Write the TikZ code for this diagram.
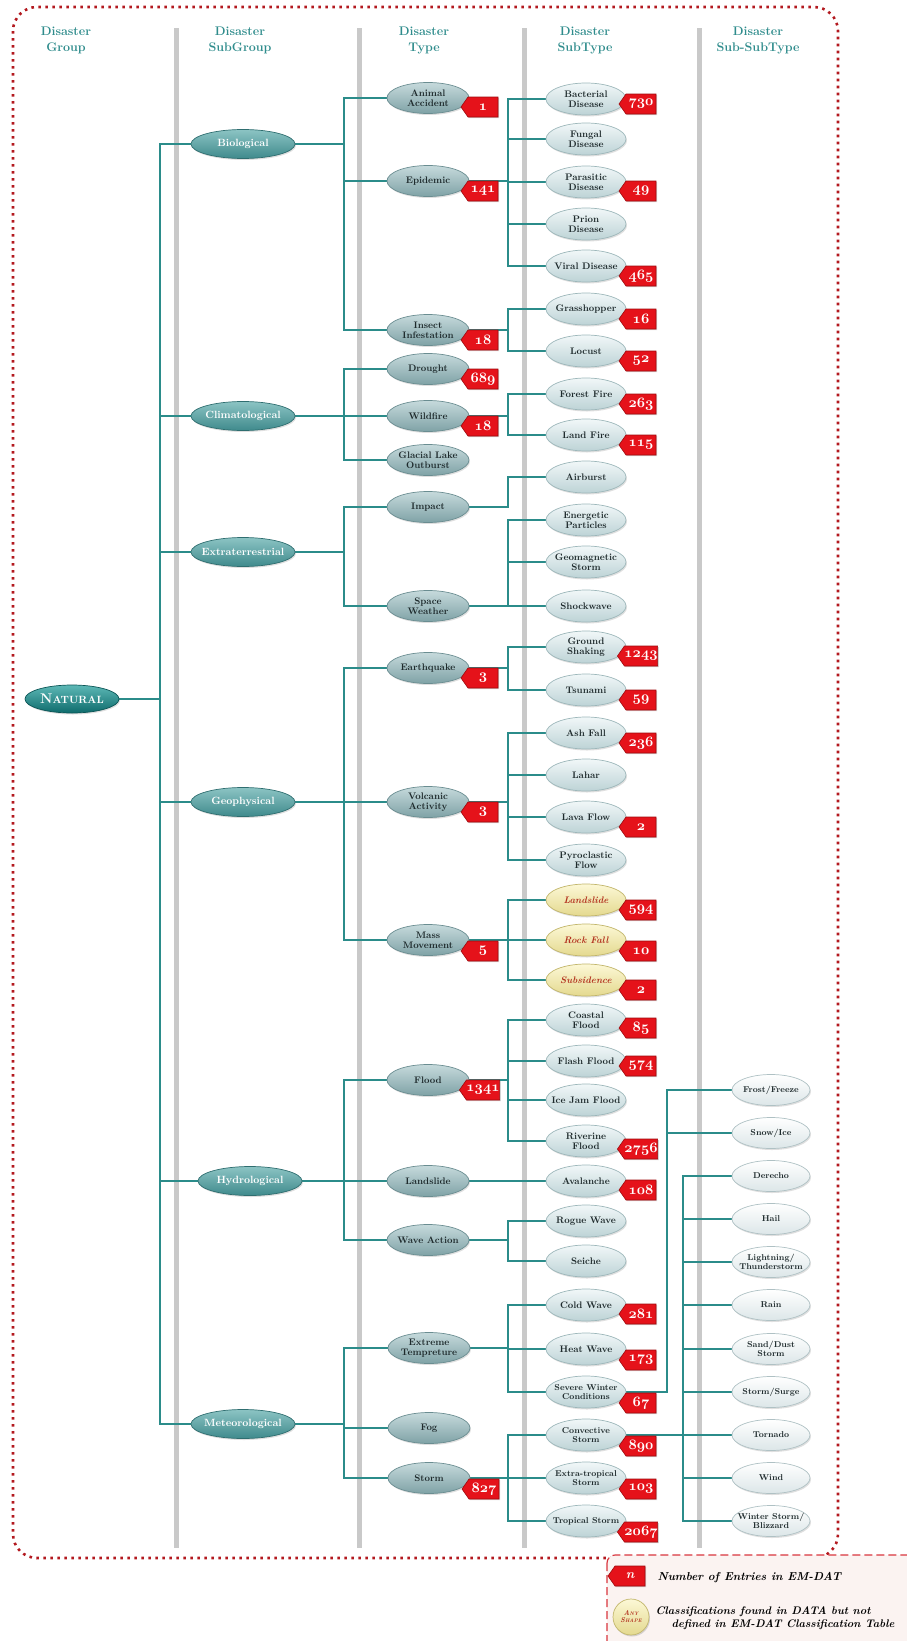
\documentclass[tikz,border=0pt]{standalone}
\usetikzlibrary{shapes.geometric,shapes.symbols,shadows,backgrounds}

\definecolor{linkC}{HTML}{2B8C8A}
\definecolor{headC}{HTML}{2F8C8C}
\definecolor{barC}{HTML}{C9C9C9}
\definecolor{natT}{HTML}{5DB8B6}
\definecolor{natB}{HTML}{0E6B6C}
\definecolor{natD}{HTML}{0B5556}
\definecolor{sgT}{HTML}{8CC4C4}
\definecolor{sgB}{HTML}{3F8A8C}
\definecolor{sgD}{HTML}{2F6E70}
\definecolor{tyT}{HTML}{C6DADC}
\definecolor{tyB}{HTML}{7FA2A6}
\definecolor{tyD}{HTML}{6A8D91}
\definecolor{stT}{HTML}{F1F7F8}
\definecolor{stB}{HTML}{BDD3D6}
\definecolor{stD}{HTML}{9DB7BA}
\definecolor{ssT}{HTML}{FFFFFF}
\definecolor{ssB}{HTML}{DCE6E8}
\definecolor{ssD}{HTML}{AFC1C4}
\definecolor{ylT}{HTML}{FCF8D6}
\definecolor{ylB}{HTML}{E4D98F}
\definecolor{ylD}{HTML}{C2B66C}
\definecolor{ylText}{HTML}{B3321F}
\definecolor{inkC}{HTML}{1E2A2C}
\definecolor{tagC}{HTML}{E5121A}
\definecolor{tagD}{HTML}{9E0A0E}
\definecolor{frameC}{HTML}{B3191F}
\definecolor{keyC}{HTML}{D9363E}
\definecolor{keyF}{HTML}{FBF3F1}

\newcommand\osn[1]{{\usefont{OML}{cmm}{b}{it}#1}}

\begin{document}
\begin{tikzpicture}[
  x=1pt, y=-1pt,
  every node/.style={align=center},
  oval/.style={ellipse, inner xsep=-8pt, inner ysep=0pt, line width=0.7pt,
               drop shadow={opacity=0.25, shadow xshift=1pt, shadow yshift=-1.5pt}},
  group/.style={oval, top color=natT, bottom color=natB, draw=natD, text=white,
                minimum width=94, minimum height=28},
  subgroup/.style={oval, top color=sgT, bottom color=sgB, draw=sgD, text=white,
                   minimum width=104, minimum height=29, font=\fontsize{10.5}{11}\selectfont\bfseries},
  dtype/.style={oval, top color=tyT, bottom color=tyB, draw=tyD, text=inkC,
                minimum width=82, minimum height=31, font=\fontsize{9.5}{10}\selectfont\bfseries},
  subtype/.style={oval, top color=stT, bottom color=stB, draw=stD, text=inkC,
                  minimum width=80, minimum height=32, font=\fontsize{9.5}{10}\selectfont\bfseries},
  extra/.style={oval, top color=ylT, bottom color=ylB, draw=ylD, text=ylText,
                minimum width=80, minimum height=32, font=\fontsize{9.5}{10}\selectfont\bfseries\itshape},
  subsub/.style={oval, top color=ssT, bottom color=ssB, draw=ssD, text=inkC,
                 minimum width=78, minimum height=31, font=\fontsize{8.5}{9.5}\selectfont\bfseries},
  tag/.style={signal, signal to=west, signal pointer angle=110, fill=tagC, draw=tagD,
              line width=0.6pt, text=white, minimum width=37, minimum height=20, inner xsep=0pt, inner ysep=1pt,
              font=\fontsize{13.5}{13.5}\selectfont\bfseries,
              drop shadow={opacity=0.35, shadow xshift=1.2pt, shadow yshift=-1.2pt}},
  head/.style={text=headC, font=\fontsize{12.5}{16}\selectfont\bfseries},
  link/.style={draw=linkC, line width=1.5pt},
  bar/.style={draw=barC, line width=5pt},
  keytext/.style={anchor=west, align=left, text=black, font=\fontsize{11.5}{13}\selectfont\bfseries\itshape}
]
\useasboundingbox (0,0) rectangle (907,1641);

% column headers
\node[head] (hgroup) at (66,40) {Disaster\\Group};
\node[head] (hsubgroup) at (240,40) {Disaster\\SubGroup};
\node[head] (htype) at (424,40) {Disaster\\Type};
\node[head] (hsubtype) at (585,40) {Disaster\\SubType};
\node[head] (hsubsub) at (758,40) {Disaster\\Sub-SubType};

% trunk positions
\coordinate (k0) at (160,0);
\coordinate (k1) at (344,0);
\coordinate (k2) at (508,0);
\coordinate (k3) at (667,0);
\coordinate (k4) at (683,0);

% group and subgroups
\node[group] (nat) at (72,699) {{\fontsize{14}{14}\selectfont\bfseries N}{\fontsize{10.5}{10.5}\selectfont\bfseries ATURAL}};
\node[subgroup] (bio) at (243,144) {Biological};
\node[subgroup] (clim) at (243,416) {Climatological};
\node[subgroup] (xterr) at (243,552) {Extraterrestrial};
\node[subgroup] (geo) at (243,802) {Geophysical};
\node[subgroup] (hydro) at (250,1181) {Hydrological};
\node[subgroup] (meteo) at (243,1424) {Meteorological};

% types
\node[dtype] (anim) at (428,98) {Animal\\Accident};
\node[dtype] (epid) at (428,181) {Epidemic};
\node[dtype] (insect) at (428,330) {Insect\\Infestation};
\node[dtype] (drought) at (428,369) {Drought};
\node[dtype] (wildfire) at (428,416) {Wildfire};
\node[dtype] (glacial) at (428,460) {Glacial Lake\\Outburst};
\node[dtype] (impact) at (428,507) {Impact};
\node[dtype] (spacew) at (428,606) {Space\\Weather};
\node[dtype] (quake) at (428,668) {Earthquake};
\node[dtype] (volc) at (428,802) {Volcanic\\Activity};
\node[dtype] (mass) at (428,940) {Mass\\Movement};
\node[dtype] (flood) at (428,1080) {Flood};
\node[dtype] (slideT) at (428,1181) {Landslide};
\node[dtype] (wave) at (428,1240) {Wave Action};
\node[dtype] (extreme) at (429,1348) {Extreme\\Tempreture};
\node[dtype] (fog) at (429,1428) {Fog};
\node[dtype] (storm) at (429,1478) {Storm};

% subtypes
\node[subtype] (bact) at (586,99) {Bacterial\\Disease};
\node[subtype] (fung) at (586,139) {Fungal\\Disease};
\node[subtype] (paras) at (586,182) {Parasitic\\Disease};
\node[subtype] (prion) at (586,224) {Prion\\Disease};
\node[subtype] (viral) at (586,266) {Viral Disease};
\node[subtype] (grass) at (586,309) {Grasshopper};
\node[subtype] (locust) at (586,351) {Locust};
\node[subtype] (forest) at (586,394) {Forest Fire};
\node[subtype] (landf) at (586,435) {Land Fire};
\node[subtype] (airb) at (586,477) {Airburst};
\node[subtype] (energ) at (586,520) {Energetic\\Particles};
\node[subtype] (geomag) at (586,562) {Geomagnetic\\Storm};
\node[subtype] (shock) at (586,606) {Shockwave};
\node[subtype] (ground) at (586,647) {Ground\\Shaking};
\node[subtype] (tsun) at (586,690) {Tsunami};
\node[subtype] (ash) at (586,733) {Ash Fall};
\node[subtype] (lahar) at (586,775) {Lahar};
\node[subtype] (lava) at (586,817) {Lava Flow};
\node[subtype] (pyro) at (586,860) {Pyroclastic\\Flow};
\node[extra] (slide) at (586,900) {Landslide};
\node[extra] (rock) at (586,940) {Rock Fall};
\node[extra] (subs) at (586,980) {Subsidence};
\node[subtype] (coast) at (586,1020) {Coastal\\Flood};
\node[subtype] (flash) at (586,1061) {Flash Flood};
\node[subtype] (icejam) at (586,1100) {Ice Jam Flood};
\node[subtype] (river) at (586,1141) {Riverine\\Flood};
\node[subtype] (aval) at (586,1181) {Avalanche};
\node[subtype] (rogue) at (586,1221) {Rogue Wave};
\node[subtype] (seiche) at (586,1261) {Seiche};
\node[subtype] (cold) at (586,1305) {Cold Wave};
\node[subtype] (heat) at (586,1349) {Heat Wave};
\node[subtype, font=\fontsize{8.5}{9.5}\selectfont\bfseries] (severe) at (586,1392) {Severe Winter\\Conditions};
\node[subtype, font=\fontsize{8.5}{9.5}\selectfont\bfseries] (conv) at (586,1435) {Convective\\Storm};
\node[subtype, font=\fontsize{8.5}{9.5}\selectfont\bfseries] (extrat) at (586,1478) {Extra-tropical\\Storm};
\node[subtype, font=\fontsize{8.5}{9.5}\selectfont\bfseries] (trop) at (586,1521) {Tropical Storm};

% sub-subtypes
\node[subsub] (frost) at (771,1090) {Frost/Freeze};
\node[subsub] (snow) at (771,1133) {Snow/Ice};
\node[subsub] (derecho) at (771,1176) {Derecho};
\node[subsub] (hail) at (771,1219) {Hail};
\node[subsub] (light) at (771,1262) {Lightning/\\Thunderstorm};
\node[subsub] (rain) at (771,1305) {Rain};
\node[subsub] (sand) at (771,1349) {Sand/Dust\\Storm};
\node[subsub] (surge) at (771,1392) {Storm/Surge};
\node[subsub] (tornado) at (771,1435) {Tornado};
\node[subsub] (wind) at (771,1478) {Wind};
\node[subsub] (winter) at (771,1521) {Winter Storm/\\Blizzard};

% entry counts
\node[tag] (t-anim) at (483,107) {\osn{1}};
\node[tag] (t-epid) at (483,191) {\osn{141}};
\node[tag] (t-insect) at (483,340) {\osn{18}};
\node[tag] (t-drought) at (483,379) {\osn{689}};
\node[tag] (t-wildfire) at (483,426) {\osn{18}};
\node[tag] (t-quake) at (483,678) {\osn{3}};
\node[tag] (t-volc) at (483,812) {\osn{3}};
\node[tag] (t-mass) at (483,951) {\osn{5}};
\node[tag] (t-flood) at (483,1090) {\osn{1341}};
\node[tag] (t-storm) at (484,1489) {\osn{827}};
\node[tag] (t-bact) at (641,104) {\osn{730}};
\node[tag] (t-paras) at (641,191) {\osn{49}};
\node[tag] (t-viral) at (641,276) {\osn{465}};
\node[tag] (t-grass) at (641,319) {\osn{16}};
\node[tag] (t-locust) at (641,361) {\osn{52}};
\node[tag] (t-forest) at (641,404) {\osn{263}};
\node[tag] (t-landf) at (641,445) {\osn{115}};
\node[tag] (t-ground) at (641,656) {\osn{1243}};
\node[tag] (t-tsun) at (641,700) {\osn{59}};
\node[tag] (t-ash) at (641,743) {\osn{236}};
\node[tag] (t-lava) at (641,827) {\osn{2}};
\node[tag] (t-slide) at (641,910) {\osn{594}};
\node[tag] (t-rock) at (641,951) {\osn{10}};
\node[tag] (t-subs) at (641,990) {\osn{2}};
\node[tag] (t-coast) at (641,1028) {\osn{85}};
\node[tag] (t-flash) at (641,1066) {\osn{574}};
\node[tag] (t-river) at (641,1149) {\osn{2756}};
\node[tag] (t-aval) at (641,1190) {\osn{108}};
\node[tag] (t-cold) at (641,1314) {\osn{281}};
\node[tag] (t-heat) at (641,1360) {\osn{173}};
\node[tag] (t-severe) at (641,1403) {\osn{67}};
\node[tag] (t-conv) at (641,1446) {\osn{890}};
\node[tag] (t-extrat) at (641,1489) {\osn{103}};
\node[tag] (t-trop) at (641,1532) {\osn{2067}};

\begin{scope}[on background layer]
  % frame and column bars
  \draw[frameC, line width=2.6pt, dash pattern=on 2.6pt off 4.4pt, rounded corners=24]
    (13,7) rectangle (838,1558);
  \draw[bar] (176,28) -- (176,1548);
  \draw[bar] (359,28) -- (359,1548);
  \draw[bar] (524,28) -- (524,1548);
  \draw[bar] (699,28) -- (699,1548);

  % group to subgroups
  \draw[link] (nat.east) -- (nat.east -| k0) |- (bio.west);
  \draw[link] (nat.east) -- (nat.east -| k0) |- (clim.west);
  \draw[link] (nat.east) -- (nat.east -| k0) |- (xterr.west);
  \draw[link] (nat.east) -- (nat.east -| k0) |- (geo.west);
  \draw[link] (nat.east) -- (nat.east -| k0) |- (hydro.west);
  \draw[link] (nat.east) -- (nat.east -| k0) |- (meteo.west);

  % subgroups to types
  \draw[link] (bio.east) -- (bio.east -| k1) |- (anim.west);
  \draw[link] (bio.east) -- (bio.east -| k1) |- (epid.west);
  \draw[link] (bio.east) -- (bio.east -| k1) |- (insect.west);
  \draw[link] (clim.east) -- (clim.east -| k1) |- (drought.west);
  \draw[link] (clim.east) -- (clim.east -| k1) |- (wildfire.west);
  \draw[link] (clim.east) -- (clim.east -| k1) |- (glacial.west);
  \draw[link] (xterr.east) -- (xterr.east -| k1) |- (impact.west);
  \draw[link] (xterr.east) -- (xterr.east -| k1) |- (spacew.west);
  \draw[link] (geo.east) -- (geo.east -| k1) |- (quake.west);
  \draw[link] (geo.east) -- (geo.east -| k1) |- (volc.west);
  \draw[link] (geo.east) -- (geo.east -| k1) |- (mass.west);
  \draw[link] (hydro.east) -- (hydro.east -| k1) |- (flood.west);
  \draw[link] (hydro.east) -- (hydro.east -| k1) |- (slideT.west);
  \draw[link] (hydro.east) -- (hydro.east -| k1) |- (wave.west);
  \draw[link] (meteo.east) -- (meteo.east -| k1) |- (extreme.west);
  \draw[link] (meteo.east) -- (meteo.east -| k1) |- (fog.west);
  \draw[link] (meteo.east) -- (meteo.east -| k1) |- (storm.west);

  % types to subtypes
  \draw[link] (epid.east) -- (epid.east -| k2) |- (bact.west);
  \draw[link] (epid.east) -- (epid.east -| k2) |- (fung.west);
  \draw[link] (epid.east) -- (epid.east -| k2) |- (paras.west);
  \draw[link] (epid.east) -- (epid.east -| k2) |- (prion.west);
  \draw[link] (epid.east) -- (epid.east -| k2) |- (viral.west);
  \draw[link] (insect.east) -- (insect.east -| k2) |- (grass.west);
  \draw[link] (insect.east) -- (insect.east -| k2) |- (locust.west);
  \draw[link] (wildfire.east) -- (wildfire.east -| k2) |- (forest.west);
  \draw[link] (wildfire.east) -- (wildfire.east -| k2) |- (landf.west);
  \draw[link] (impact.east) -- (impact.east -| k2) |- (airb.west);
  \draw[link] (spacew.east) -- (spacew.east -| k2) |- (energ.west);
  \draw[link] (spacew.east) -- (spacew.east -| k2) |- (geomag.west);
  \draw[link] (spacew.east) -- (spacew.east -| k2) |- (shock.west);
  \draw[link] (quake.east) -- (quake.east -| k2) |- (ground.west);
  \draw[link] (quake.east) -- (quake.east -| k2) |- (tsun.west);
  \draw[link] (volc.east) -- (volc.east -| k2) |- (ash.west);
  \draw[link] (volc.east) -- (volc.east -| k2) |- (lahar.west);
  \draw[link] (volc.east) -- (volc.east -| k2) |- (lava.west);
  \draw[link] (volc.east) -- (volc.east -| k2) |- (pyro.west);
  \draw[link] (mass.east) -- (mass.east -| k2) |- (slide.west);
  \draw[link] (mass.east) -- (mass.east -| k2) |- (rock.west);
  \draw[link] (mass.east) -- (mass.east -| k2) |- (subs.west);
  \draw[link] (flood.east) -- (flood.east -| k2) |- (coast.west);
  \draw[link] (flood.east) -- (flood.east -| k2) |- (flash.west);
  \draw[link] (flood.east) -- (flood.east -| k2) |- (icejam.west);
  \draw[link] (flood.east) -- (flood.east -| k2) |- (river.west);
  \draw[link] (slideT.east) -- (aval.west);
  \draw[link] (wave.east) -- (wave.east -| k2) |- (rogue.west);
  \draw[link] (wave.east) -- (wave.east -| k2) |- (seiche.west);
  \draw[link] (extreme.east) -- (extreme.east -| k2) |- (cold.west);
  \draw[link] (extreme.east) -- (extreme.east -| k2) |- (heat.west);
  \draw[link] (extreme.east) -- (extreme.east -| k2) |- (severe.west);
  \draw[link] (storm.east) -- (storm.east -| k2) |- (conv.west);
  \draw[link] (storm.east) -- (storm.east -| k2) |- (extrat.west);
  \draw[link] (storm.east) -- (storm.east -| k2) |- (trop.west);

  % subtypes to sub-subtypes
  \draw[link] (severe.east) -- (severe.east -| k3) |- (frost.west);
  \draw[link] (severe.east) -- (severe.east -| k3) |- (snow.west);
  \draw[link] (conv.east) -- (conv.east -| k4) |- (derecho.west);
  \draw[link] (conv.east) -- (conv.east -| k4) |- (hail.west);
  \draw[link] (conv.east) -- (conv.east -| k4) |- (light.west);
  \draw[link] (conv.east) -- (conv.east -| k4) |- (rain.west);
  \draw[link] (conv.east) -- (conv.east -| k4) |- (sand.west);
  \draw[link] (conv.east) -- (conv.east -| k4) |- (surge.west);
  \draw[link] (conv.east) -- (conv.east -| k4) |- (tornado.west);
  \draw[link] (conv.east) -- (conv.east -| k4) |- (wind.west);
  \draw[link] (conv.east) -- (conv.east -| k4) |- (winter.west);
\end{scope}

% legend
\draw[keyC, fill=keyF, line width=1.2pt, dash pattern=on 8pt off 4pt, rounded corners=8]
  (607,1555) rectangle (950,1690);
\node[tag, font=\fontsize{13}{13}\selectfont\bfseries\itshape] (keytag) at (630,1576) {n};
\node[keytext] (keycount) at (654,1578) {Number of Entries in EM-DAT};
\node[circle, minimum size=36, inner sep=0pt, top color=ylT, bottom color=ylB, draw=ylD, line width=0.7pt,
      text=ylText, font=\fontsize{7}{7}\selectfont\bfseries\itshape,
      drop shadow={opacity=0.3, shadow xshift=1pt, shadow yshift=-1.5pt}] (keyball) at (631,1617)
  {A{\fontsize{5}{6}\selectfont NY}\\S{\fontsize{5}{6}\selectfont HAPE}};
\node[keytext, font=\fontsize{11}{12.5}\selectfont\bfseries\itshape] (keyextra) at (652,1618)
  {Classifications found in DATA but not\\\hspace*{16pt}defined in EM-DAT Classification Table};
\end{tikzpicture}
\end{document}
